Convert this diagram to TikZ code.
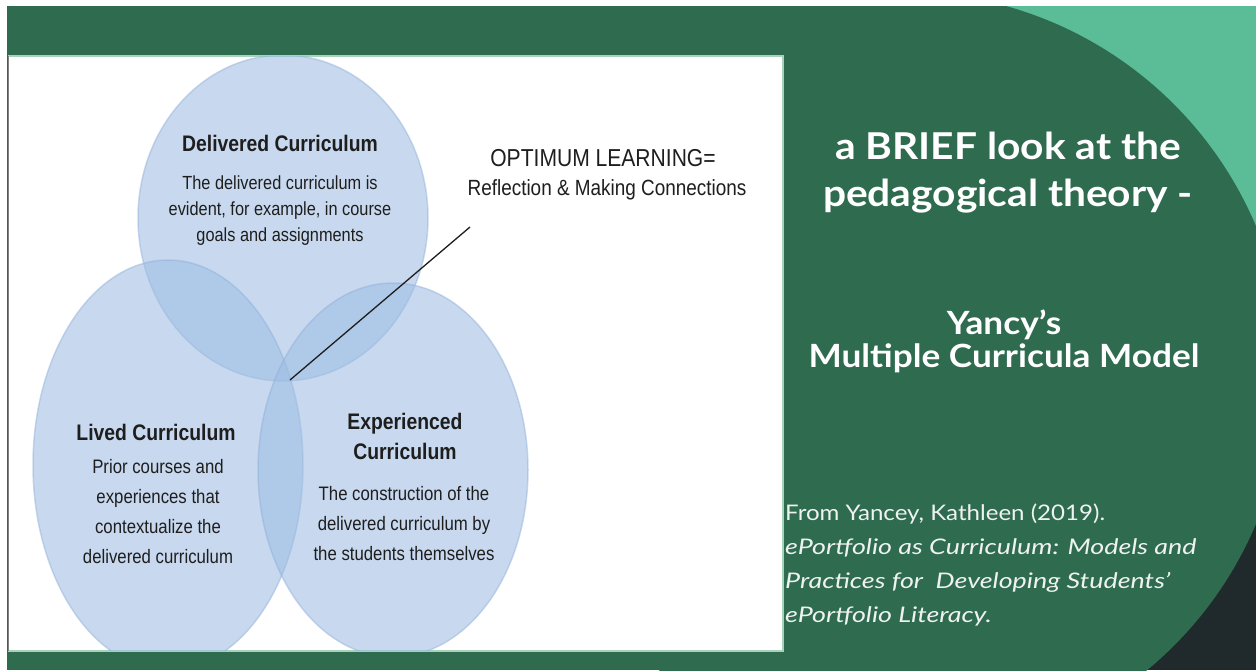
\documentclass[tikz,border=0pt]{standalone}
\usepackage{fontspec}
\setmainfont{Liberation Sans}
\newfontfamily\narrowfont[FakeStretch=0.86]{Liberation Sans}
\newfontfamily\latofont[FakeStretch=1.1]{Lato}
\newfontfamily\citefont[FakeStretch=1.12]{Lato}
\newfontfamily\citeitfont[FakeStretch=1.25]{Lato}
\definecolor{slidegreen}{HTML}{2F6B4F}
\definecolor{tealc}{HTML}{5BBD97}
\definecolor{charcoal}{HTML}{20292B}
\definecolor{vennblue}{HTML}{9DBDE3}
\definecolor{vennedge}{HTML}{8FAED8}
\definecolor{paleedge}{HTML}{A8D2BC}
\definecolor{inkc}{HTML}{1E1E1E}
\tikzset{
  venn/.style={fill=vennblue, fill opacity=0.56, draw=vennedge, draw opacity=0.45, line width=1.5pt},
  headtxt/.style={text=inkc, font=\narrowfont\bfseries\fontsize{22.5}{30}\selectfont, align=center, inner sep=0pt},
  bodytxt/.style={text=inkc, font=\narrowfont\fontsize{19}{26}\selectfont, align=center, inner sep=0pt},
  bodytxtw/.style={text=inkc, font=\narrowfont\fontsize{19.5}{30}\selectfont, align=center, inner sep=0pt},
  titletxt/.style={text=white, font=\latofont\bfseries\fontsize{37}{47}\selectfont, align=center, inner sep=0pt},
  subtxt/.style={text=white, font=\latofont\bfseries\fontsize{32}{33}\selectfont, align=center, inner sep=0pt},
  citetxt/.style={text=white!92!slidegreen, font=\citefont\fontsize{21.5}{33.7}\selectfont, align=left, inner sep=0pt}
}
\begin{document}
\begin{tikzpicture}[x=1pt, y=-1pt]
\useasboundingbox (0,0) rectangle (1256,670);
\fill[white] (0,0) rectangle (1256,670);
% slide background
\begin{scope}
\clip (7,6) rectangle (1256,670);
\fill[slidegreen] (7,6) rectangle (1256,670);
\fill[tealc] (880,6) rectangle (1256,375);
\fill[charcoal] (880,375) rectangle (1256,670);
\fill[slidegreen] (903,375) circle[radius=383];
\end{scope}
% white panel
\fill[white] (8,56) rectangle (783,651);
\draw[paleedge, line width=1.2pt] (8,56) -- (783,56) -- (783,651) -- (8,651);
\draw[gray, line width=1pt] (8,56) -- (8,651);
% venn ellipses
\begin{scope}
\clip (8.5,56.6) rectangle (782.4,650.4);
\path[venn] (283,218) ellipse[x radius=145, y radius=163];
\path[venn] (168,465) ellipse[x radius=135, y radius=205];
\path[venn] (393,470) ellipse[x radius=135, y radius=187];
\end{scope}
% texts left
\node[headtxt] (delh) at (280,143) {Delivered Curriculum};
\node[bodytxt] (delb) at (280,211) {The delivered curriculum is\\evident, for example, in course\\goals and assignments};
\node[headtxt] (livh) at (156,432) {Lived Curriculum};
\node[bodytxtw] (livb) at (158,512) {Prior courses and\\experiences that\\contextualize the\\delivered curriculum};
\node[headtxt] (exph) at (405,436) {Experienced\\Curriculum};
\node[bodytxtw] (expb) at (404,524) {The construction of the\\delivered curriculum by\\the students themselves};
\node[text=inkc, font=\narrowfont\fontsize{24.5}{30}\selectfont, inner sep=0pt] (opt1) at (603,158) {OPTIMUM LEARNING=};
\node[text=inkc, font=\narrowfont\fontsize{22}{30}\selectfont, inner sep=0pt] (opt2) at (607,190) {Reflection \& Making Connections};
\coordinate (lineA) at (470,227);
\coordinate (lineB) at (290,380);
\draw[inkc, line width=1.3pt] (lineA) -- (lineB);
% right texts
\node[titletxt] (title) at (1008,173) {a BRIEF look at the\\pedagogical theory -};
\node[subtxt] (sub) at (1004,341) {Yancy’s\\Multiple Curricula Model};
\node[citetxt, anchor=west] (cite) at (785,565) {From Yancey, Kathleen (2019).\\\citeitfont\itshape ePortfolio as Curriculum: Models and\\\citeitfont\itshape Practices for\ \ Developing Students’\\\citeitfont\itshape ePortfolio Literacy.};
\end{tikzpicture}
\end{document}
